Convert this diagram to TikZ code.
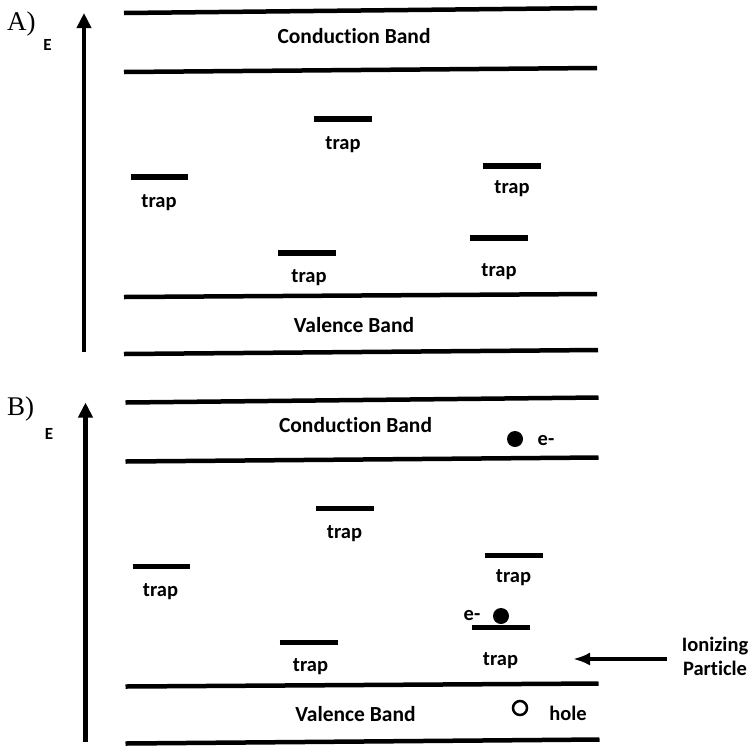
\documentclass[tikz,border=0pt]{standalone}
\usepackage{fontspec}
\setmainfont{Carlito}[Ligatures=NoCommon]
\newfontfamily\panelfont{Liberation Serif}
\usetikzlibrary{arrows.meta}

% One band diagram: energy axis, conduction/valence bands and five trap levels.
% #1 = name prefix, #2 = shift of the whole panel
\newcommand\banddiagram[2]{%
  \begin{scope}[shift={#2}]
    \coordinate (#1-axis-foot) at (84,352);
    \coordinate (#1-axis-tip) at (84,13);
    \draw[axis] (#1-axis-foot) -- (#1-axis-tip);
    \node[elabel, anchor=base] (#1-E) at (47.5,50) {E};
    % conduction band
    \draw[band] (124,13) -- (597,8);
    \draw[band] (124,72) -- (597,68);
    \node[bandlbl, anchor=base] (#1-cb) at (354,43) {Conduction Band};
    % valence band
    \draw[band] (124,297) -- (597,294);
    \draw[band] (124,354) -- (598,350);
    \node[bandlbl, anchor=base] (#1-vb) at (354,332) {Valence Band};
    % trap levels
    \draw[level] (131,177) -- (188,177);
    \node[lbl, anchor=base] (#1-t1) at (159,207) {trap};
    \draw[level] (314,119) -- (372,119);
    \node[lbl, anchor=base] (#1-t2) at (343,149) {trap};
    \draw[level] (483,166) -- (541,166);
    \node[lbl, anchor=base] (#1-t3) at (512,193) {trap};
    \draw[level] (278,253) -- (336,253);
    \node[lbl, anchor=base] (#1-t4) at (309,282) {trap};
    \draw[level] (470,238) -- (528,238);
    \node[lbl, anchor=base] (#1-t5) at (499,276) {trap};
  \end{scope}}

\begin{document}
\begin{tikzpicture}[x=1pt,y=-1pt,
  band/.style={line width=4.5pt},
  level/.style={line width=5.5pt},
  lbl/.style={font=\fontsize{20.5}{24}\selectfont\bfseries, inner sep=0pt},
  bandlbl/.style={font=\fontsize{21.5}{24}\selectfont\bfseries, inner sep=0pt},
  elabel/.style={font=\fontsize{17}{20}\selectfont\bfseries, inner sep=0pt},
  tag/.style={font=\fontsize{27}{30}\selectfont\panelfont, inner sep=0pt},
  axis/.style={line width=4.3pt, -{Triangle[length=15pt,width=14pt]}},
  hitarrow/.style={line width=4.5pt, -{Latex[length=17pt,width=13pt]}},
  electron/.style={circle, fill=black, minimum size=16pt, inner sep=0pt},
  hole/.style={circle, draw=black, line width=2.5pt, minimum size=14pt, inner sep=0pt}]
\useasboundingbox (0,0) rectangle (752,745);

% panel A: trap levels in the band gap
\node[tag, anchor=base west] (a-tag) at (7,30) {A)};
\banddiagram{a}{(0,0)}

% panel B: the same levels after an ionizing particle passes
\node[tag, anchor=base west] (b-tag) at (7,415) {B)};
\banddiagram{b}{(1.5,389.5)}

% free electron in the conduction band
\node[electron] (b-e1) at (515,439) {};
\node[lbl, anchor=base] (b-e1-lbl) at (546,445) {e-};
% electron caught in a trap
\node[electron] (b-e2) at (501,616) {};
\node[lbl, anchor=base] (b-e2-lbl) at (472,620) {e-};
% hole left in the valence band
\node[hole] (b-h) at (520,708) {};
\node[lbl, anchor=base] (b-h-lbl) at (568,720) {hole};

% incoming ionizing particle
\node[lbl, align=center] (ionize) at (715,656) {Ionizing\\Particle};
\coordinate (hit) at (573,659);
\draw[hitarrow, shorten <=15pt] (ionize.west |- hit) -- (hit);
\end{tikzpicture}
\end{document}
